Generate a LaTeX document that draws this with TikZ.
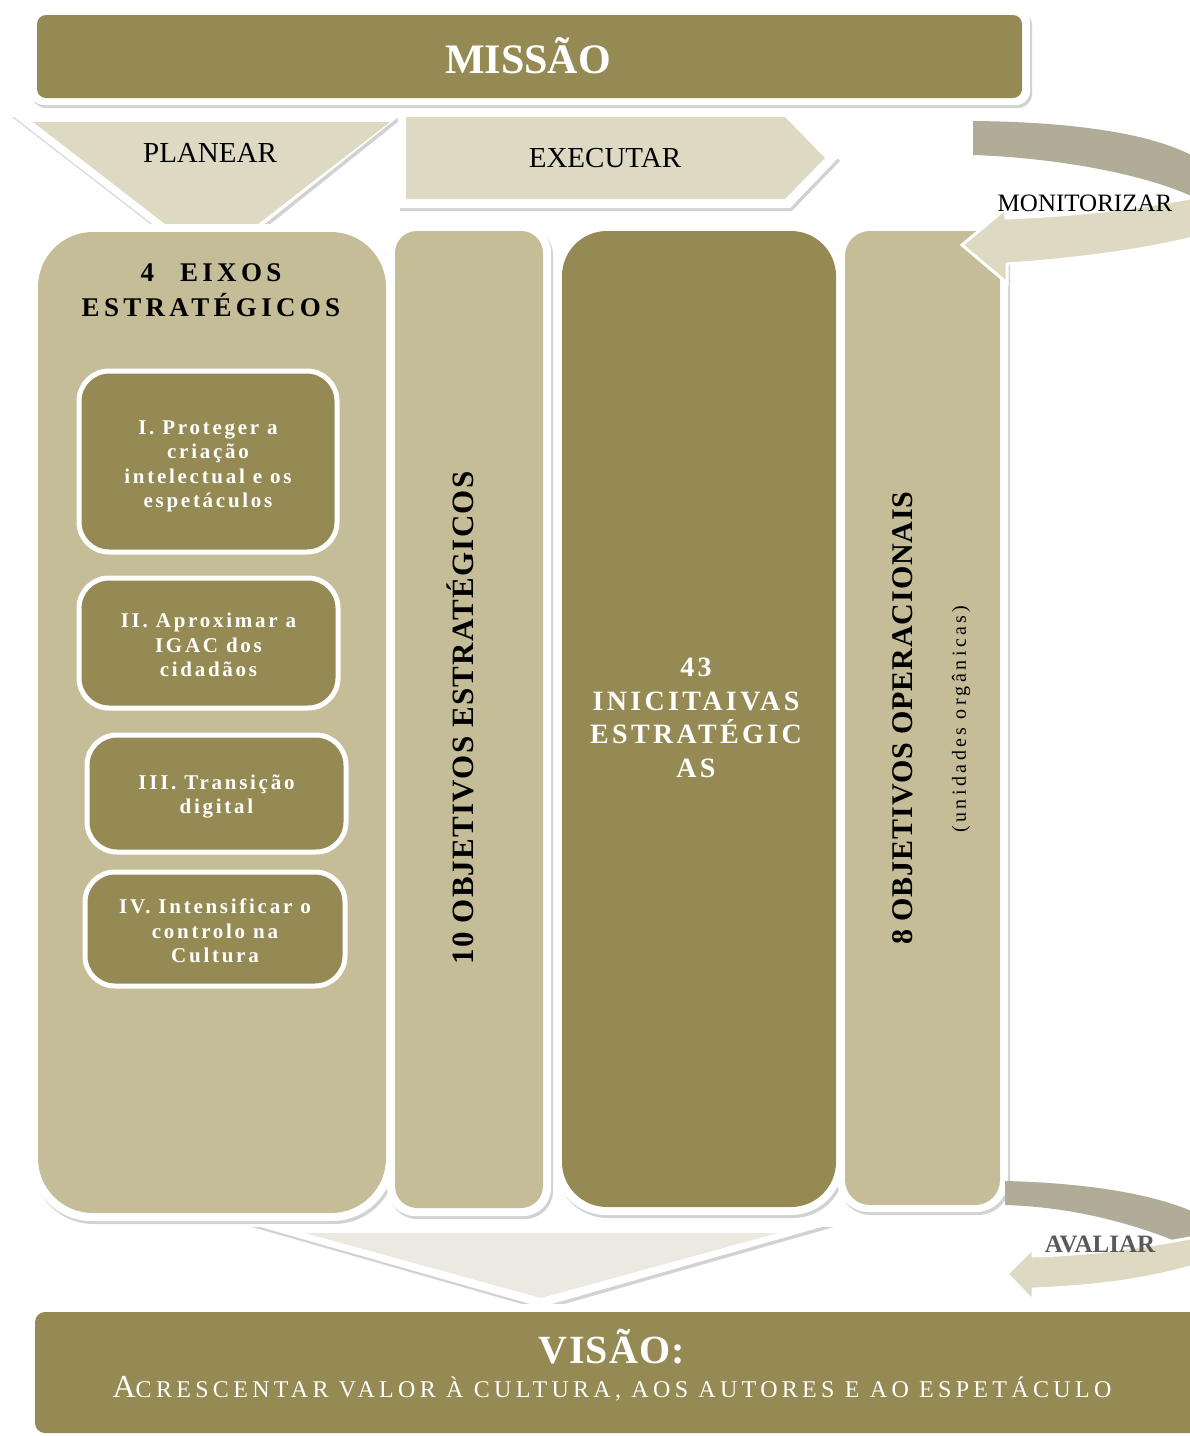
\documentclass[tikz,border=0pt]{standalone}
\usepackage{fontspec}
\setmainfont{Liberation Serif}
\usetikzlibrary{shadows}
\definecolor{olive}{RGB}{149,138,84}
\definecolor{tanfill}{RGB}{196,189,152}
\definecolor{litefill}{RGB}{221,217,195}
\definecolor{grayband}{RGB}{176,172,152}
\definecolor{palefill}{RGB}{236,234,224}
\definecolor{avalgray}{RGB}{89,89,89}
\tikzset{
  shad/.style={drop shadow={shadow xshift=2pt,shadow yshift=-3pt,opacity=0.25,fill=black!70}},
  framefill/.style={fill=white,shad},
  subbox/.style={draw=white,fill=olive,line width=5pt,rounded corners=30pt},
  subtext/.style={align=center,text=white,
    font=\fontsize{21}{24.5}\selectfont\bfseries\addfontfeature{LetterSpace=13}},
  arrowband/.style={draw=white,line width=3pt,line join=miter},
}
\begin{document}
\begin{tikzpicture}[x=1pt,y=-1pt]
\useasboundingbox (0,0) rectangle (1190,1436);
\clip (0,0) rectangle (1190,1436);
\fill[white] (0,0) rectangle (1190,1436);

% MISSAO
\fill[framefill,rounded corners=14pt] (30,8) rectangle (1030,105);
\fill[olive,rounded corners=9pt] (37,15) rectangle (1022,98);
\node[text=white,font=\fontsize{42}{48}\selectfont\bfseries] (missao) at (528,56) {MISSÃO};

% PLANEAR
\fill[framefill] (10,114) -- (402,114) -- (262,226) -- (155,226) -- cycle;
\fill[litefill] (33,122) -- (390,122) -- (258,224) -- (165,224) -- cycle;
\node[font=\fontsize{29}{32}\selectfont] (planear) at (210,153) {PLANEAR};

% EXECUTAR
\fill[framefill] (398,109) -- (790,109) -- (838,158) -- (790,208) -- (398,208) -- cycle;
\fill[litefill] (406,117) -- (785,117) -- (825,158) -- (785,199) -- (406,199) -- cycle;
\node[font=\fontsize{29}{32}\selectfont] (executar) at (605,158) {EXECUTAR};

% Columns
\fill[framefill,rounded corners=62pt] (30,224) rectangle (394,1221);
\fill[tanfill,rounded corners=55pt] (38,232) rectangle (386,1213);
\fill[framefill,rounded corners=28pt] (387,224) rectangle (551,1216);
\fill[tanfill,rounded corners=22pt] (395,231) rectangle (543,1208);
\fill[framefill,rounded corners=52pt] (554,224) rectangle (843,1215);
\fill[olive,rounded corners=45pt] (562,231) rectangle (836,1207);
\fill[framefill,rounded corners=32pt] (837,224) rectangle (1008,1212);
\fill[tanfill,rounded corners=25pt] (845,231) rectangle (1000,1205);

% Left panel title
\node[align=center,font=\fontsize{27}{35}\selectfont\bfseries\addfontfeature{LetterSpace=16}] (eixos) at (211,290) {4\hspace{26pt}EIXOS\\ESTRATÉGICOS};

% sub boxes
\node[subbox,minimum width=258pt,minimum height=181pt] (e1) at (208,461.5) {};
\node[subbox,minimum width=259pt,minimum height=130pt] (e2) at (208.5,643) {};
\node[subbox,minimum width=259pt,minimum height=117pt] (e3) at (216.5,793.5) {};
\node[subbox,minimum width=260pt,minimum height=114pt] (e4) at (215,929) {};
\node[subtext] (t1) at (208,466.5) {I. Proteger a\\criação\\intelectual e os\\espetáculos};
\node[subtext] (t2) at (208.5,645) {II. Aproximar a\\IGAC dos\\cidadãos};
\node[subtext] (t3) at (216.5,796.5) {III. Transição\\digital};
\node[subtext] (t4) at (215,931) {IV. Intensificar o\\controlo na\\Cultura};

% Column texts
\node[rotate=90,font=\fontsize{31}{34}\selectfont\bfseries\addfontfeature{LetterSpace=4}] (obj10) at (460,718) {10 OBJETIVOS ESTRATÉGICOS};
\node[align=center,text=white,font=\fontsize{28}{33.7}\selectfont\bfseries\addfontfeature{LetterSpace=12}] (inic) at (696,718) {43\\INICITAIVAS\\ESTRATÉGIC\\AS};
\node[rotate=90,font=\fontsize{30}{34}\selectfont\bfseries\addfontfeature{LetterSpace=3}] (obj8) at (903,718) {8 OBJETIVOS OPERACIONAIS};
\node[rotate=90,font=\fontsize{20}{22}\selectfont\addfontfeature{LetterSpace=17}] (unid) at (961,719) {(unidades orgânicas)};

% bottom triangle
\fill[framefill] (250,1224) -- (832,1224) -- (541,1307) -- cycle;
\fill[palefill] (305,1233) -- (778,1233) -- (541,1298) -- cycle;

% VISAO
\fill[framefill,rounded corners=14pt] (25,1304) rectangle (1205,1442);
\fill[olive,rounded corners=10pt] (35,1312) rectangle (1200,1433);
\node[text=white,font=\fontsize{40}{44}\selectfont\bfseries\addfontfeature{LetterSpace=3}] (visao) at (612,1347) {VISÃO:};
\node[text=white,font=\fontsize{24}{28}\selectfont\addfontfeature{LetterSpace=18}] (lema) at (612,1389) {{\fontsize{32}{32}\selectfont A}CRESCENTAR VALOR À CULTURA, AOS AUTORES E AO ESPETÁCULO};

% MONITORIZAR arrows
\fill[grayband] (973,121) .. controls (1080,122) and (1160,135) .. (1200,160) -- (1200,200) .. controls (1150,175) and (1060,158) .. (973,155) -- cycle;
\filldraw[arrowband,fill=litefill] (1200,196) .. controls (1130,210) and (1060,216) .. (1006,218) -- (1005,209) -- (962,245) -- (1007,283) -- (1007,264) .. controls (1070,260) and (1150,250) .. (1200,236) -- cycle;
\node[font=\fontsize{25}{28}\selectfont] (monit) at (1085,203) {MONITORIZAR};

% AVALIAR arrows
\fill[grayband] (1005,1181) .. controls (1090,1183) and (1160,1195) .. (1200,1215) -- (1200,1252) .. controls (1150,1228) and (1080,1207) .. (1005,1205) -- cycle;
\filldraw[arrowband,fill=litefill] (1200,1236) .. controls (1140,1248) and (1080,1255) .. (1033,1256) -- (1033,1248) -- (1007,1274) -- (1033,1301) -- (1033,1289) .. controls (1090,1287) and (1150,1280) .. (1200,1264) -- cycle;
\node[text=avalgray,font=\fontsize{25}{28}\selectfont\bfseries] (avaliar) at (1100,1244) {AVALIAR};
\end{tikzpicture}
\end{document}
